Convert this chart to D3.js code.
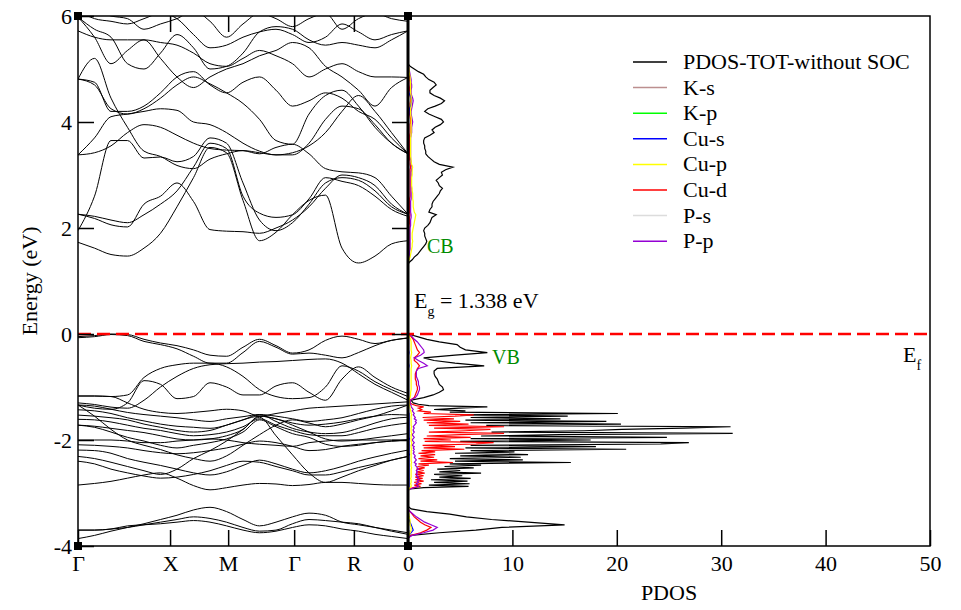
<!DOCTYPE html>
<html>
<head>
<meta charset="utf-8">
<script src="https://cdn.jsdelivr.net/npm/d3@7"></script>
<style>
  body { margin: 0; background: #fff; }
  svg text { font-family: "Liberation Serif", "Times New Roman", serif; }
</style>
</head>
<body>
<div id="chart"></div>
<script>
// k-path sampling (fraction of the path) and high symmetry points
const kGrid = [0,0.05,0.1,0.15,0.2,0.25,0.3,0.35,0.4,0.45,0.5,0.55,0.6,0.65,0.7,0.75,0.8,0.85,0.9,0.95,1];
const kTicks = [0, 0.279, 0.455, 0.655, 0.836];
const kLabels = ["Γ", "X", "M", "Γ", "R"];

// conduction bands (eV) read at every kGrid point
const condBands = [
  [1.73,1.62,1.50,1.47,1.62,1.90,2.40,2.95,3.52,3.42,2.52,1.76,1.92,2.25,2.52,2.62,1.62,1.34,1.47,1.70,1.76],
  [1.95,2.60,3.65,3.65,3.32,3.34,3.25,3.35,3.70,3.60,2.85,2.15,1.95,2.10,2.45,2.85,2.95,2.90,2.70,2.40,2.26],
  [2.26,2.18,2.06,2.02,2.45,2.60,2.85,2.50,1.97,1.94,1.93,1.90,2.00,2.15,2.40,2.75,3.00,2.95,2.80,2.45,2.26],
  [2.26,2.22,2.15,2.10,2.25,2.45,2.70,3.15,3.60,3.50,2.60,2.28,2.20,2.25,2.55,2.95,2.88,2.80,2.60,2.35,2.22],
  [3.38,3.70,4.10,4.15,4.20,4.25,4.22,4.00,3.95,3.80,3.60,3.45,3.38,3.38,3.60,4.05,4.30,4.25,3.95,3.60,3.40],
  [3.38,3.42,3.55,3.80,3.95,3.90,3.75,3.60,3.50,3.47,3.46,3.40,3.52,3.58,3.40,3.12,3.06,3.04,2.95,2.60,2.26],
  [4.81,4.70,4.25,4.15,4.25,4.45,4.70,4.85,4.72,4.55,4.35,4.05,3.65,3.58,4.15,4.50,4.60,4.30,3.90,3.60,3.40],
  [4.81,5.20,4.45,3.90,3.45,3.35,3.18,3.12,3.30,3.40,3.46,3.42,3.38,3.42,3.55,3.80,4.20,4.50,4.20,3.80,3.40],
  [4.81,4.75,4.20,4.20,4.30,4.55,4.85,4.95,4.70,4.55,4.75,4.85,4.60,4.30,4.40,4.55,4.45,4.20,4.05,3.70,3.40],
  [5.72,5.60,5.55,5.55,5.55,5.50,5.45,5.30,5.10,5.05,5.20,5.35,5.25,5.10,4.85,5.00,5.10,4.95,4.85,4.85,4.84],
  [5.98,5.60,5.10,5.35,5.55,5.20,4.85,4.65,4.85,5.00,5.10,5.25,5.35,5.50,5.40,5.05,4.85,4.60,4.30,4.65,4.84],
  [5.98,5.75,5.60,5.10,5.00,5.30,5.65,5.40,5.00,5.05,5.30,5.70,5.80,5.75,5.55,5.45,5.50,5.45,5.40,5.55,5.72],
  [6.10,5.95,5.90,5.85,5.95,6.05,5.95,5.65,5.40,5.45,5.60,5.70,5.75,5.65,5.50,5.60,5.85,5.70,5.55,5.65,5.72],
  [6.20,6.10,6.00,5.95,5.75,5.85,5.95,6.10,5.90,5.60,5.85,6.05,5.95,5.80,5.95,6.05,5.75,5.95,6.05,5.95,5.90]
];

// valence bands (eV)
const valBands = [
  [-0.05,-0.03,0.00,-0.01,-0.10,-0.17,-0.22,-0.30,-0.40,-0.42,-0.25,-0.10,-0.22,-0.36,-0.30,-0.12,-0.04,-0.10,-0.18,-0.12,-0.07],
  [-0.07,-0.05,-0.01,-0.03,-0.14,-0.20,-0.28,-0.42,-0.55,-0.55,-0.35,-0.14,-0.25,-0.38,-0.36,-0.40,-0.45,-0.35,-0.22,-0.12,-0.08],
  [-1.17,-1.17,-1.18,-1.15,-0.82,-0.65,-0.58,-0.55,-0.55,-0.62,-0.80,-1.05,-1.18,-1.22,-1.20,-1.00,-0.60,-0.70,-0.90,-1.05,-1.18],
  [-1.34,-1.40,-1.42,-1.30,-0.88,-0.95,-1.22,-1.18,-0.92,-1.00,-1.15,-1.15,-0.98,-0.92,-1.10,-1.25,-0.85,-0.62,-0.82,-1.00,-1.12],
  [-1.30,-1.33,-1.38,-1.40,-1.25,-1.00,-0.80,-0.65,-0.58,-0.56,-0.55,-0.53,-0.52,-0.50,-0.48,-0.47,-0.55,-0.75,-0.95,-1.10,-1.25],
  [-1.17,-1.17,-1.18,-1.30,-1.42,-1.48,-1.50,-1.48,-1.45,-1.42,-1.45,-1.55,-1.50,-1.45,-1.40,-1.38,-1.36,-1.34,-1.32,-1.30,-1.28],
  [-1.34,-1.36,-1.42,-1.48,-1.52,-1.55,-1.58,-1.62,-1.65,-1.60,-1.56,-1.52,-1.55,-1.60,-1.65,-1.62,-1.58,-1.50,-1.42,-1.36,-1.34],
  [-1.43,-1.45,-1.50,-1.58,-1.64,-1.70,-1.74,-1.76,-1.78,-1.72,-1.62,-1.55,-1.60,-1.68,-1.72,-1.70,-1.66,-1.60,-1.55,-1.52,-1.53],
  [-1.53,-1.55,-1.58,-1.62,-1.70,-1.76,-1.82,-1.85,-1.82,-1.72,-1.62,-1.52,-1.65,-1.78,-1.85,-1.88,-1.86,-1.78,-1.68,-1.60,-1.57],
  [-1.61,-1.62,-1.66,-1.72,-1.78,-1.82,-1.88,-1.92,-1.90,-1.85,-1.75,-1.60,-1.72,-1.82,-1.90,-1.92,-1.92,-1.86,-1.78,-1.72,-1.68],
  [-1.72,-1.74,-1.78,-1.82,-1.86,-1.92,-1.98,-2.00,-1.98,-1.92,-1.80,-1.55,-1.60,-1.72,-1.85,-1.98,-2.02,-2.00,-1.96,-1.92,-1.88],
  [-1.72,-1.76,-1.85,-1.95,-2.02,-2.10,-2.15,-2.10,-2.05,-1.98,-1.85,-1.62,-1.75,-1.88,-1.95,-2.08,-2.12,-2.10,-2.05,-2.02,-2.00],
  [-1.34,-1.55,-1.80,-2.00,-2.10,-2.18,-2.28,-2.35,-2.40,-2.30,-2.10,-1.90,-1.72,-1.62,-1.68,-1.75,-1.70,-1.62,-1.55,-1.45,-1.34],
  [-2.00,-2.00,-2.00,-2.02,-2.05,-2.05,-2.02,-2.00,-1.98,-2.00,-2.05,-2.08,-2.10,-2.12,-2.05,-2.02,-2.00,-2.00,-2.00,-2.00,-2.00],
  [-2.09,-2.10,-2.12,-2.15,-2.20,-2.24,-2.26,-2.24,-2.20,-2.15,-2.08,-2.02,-2.05,-2.12,-2.20,-2.18,-2.12,-2.08,-2.05,-2.02,-2.00],
  [-2.31,-2.35,-2.42,-2.50,-2.58,-2.65,-2.55,-2.35,-2.20,-2.02,-1.80,-1.57,-1.92,-2.28,-2.62,-2.80,-2.70,-2.58,-2.48,-2.38,-2.31],
  [-2.19,-2.20,-2.25,-2.35,-2.42,-2.48,-2.55,-2.62,-2.66,-2.60,-2.48,-2.38,-2.45,-2.55,-2.62,-2.58,-2.50,-2.40,-2.32,-2.25,-2.19],
  [-2.40,-2.45,-2.55,-2.62,-2.68,-2.72,-2.70,-2.65,-2.58,-2.48,-2.40,-2.42,-2.50,-2.58,-2.66,-2.66,-2.60,-2.52,-2.45,-2.38,-2.31],
  [-2.85,-2.82,-2.78,-2.72,-2.66,-2.62,-2.72,-2.86,-2.94,-2.90,-2.85,-2.82,-2.83,-2.86,-2.84,-2.80,-2.80,-2.82,-2.84,-2.85,-2.85],
  [-3.86,-3.80,-3.72,-3.65,-3.58,-3.50,-3.42,-3.32,-3.27,-3.35,-3.50,-3.62,-3.55,-3.45,-3.38,-3.42,-3.55,-3.60,-3.65,-3.70,-3.75],
  [-3.70,-3.70,-3.68,-3.65,-3.60,-3.55,-3.50,-3.45,-3.48,-3.55,-3.65,-3.72,-3.70,-3.58,-3.50,-3.52,-3.55,-3.58,-3.65,-3.72,-3.78],
  [-3.70,-3.70,-3.68,-3.62,-3.60,-3.58,-3.55,-3.52,-3.55,-3.62,-3.70,-3.75,-3.72,-3.65,-3.60,-3.62,-3.68,-3.72,-3.78,-3.82,-3.86]
];

// PDOS energy grid: -3.90..-2.95 every 0.05 eV, -2.925..-1.30 every 0.025 eV, -1.25..5.10 every 0.05 eV
const pdosE = [].concat(
  d3.range(20).map(i => +(-3.90 + 0.05 * i).toFixed(3)),
  d3.range(66).map(i => +(-2.925 + 0.025 * i).toFixed(3)),
  d3.range(128).map(i => +(-1.25 + 0.05 * i).toFixed(3))
);

const pdosTot = [
  0,0,0.3,3.0,6.5,9.0,15.0,11.5,8.0,5.6,4.0,1.8,0.3,0,0,0,0,0,0,0,
  0.2,1.5,5.8,2.0,5.9,2.5,5.7,2.2,6.0,3.0,5.2,2.5,7.0,3.0,5.0,2.8,6.3,3.5,7.0,4.0,
  15.6,4.5,11.0,4.0,10.8,5.0,11.5,4.5,10.2,6.0,20.9,5.5,18.0,6.0,24.2,26.9,5.0,17.5,6.0,24.8,
  7.0,14.5,31.1,8.0,16.9,20.5,26.4,30.9,7.5,20.4,6.0,19.0,5.5,14.6,6.0,15.3,5.0,20.1,4.0,5.5,
  2.5,4.9,7.6,2.0,1.0,0.5,
  0.3,1.5,2.4,3.0,3.4,3.3,3.0,2.9,2.8,2.6,2.5,2.5,2.8,7.3,4.5,2.5,1.5,4.5,7.6,5.5,5.0,4.7,3.0,1.8,0.9,0,
  0,0,0,0,0,0,0,0,0,0,0,0,0,0,0,0,0,0,0,0,0,0,0,0,0,0,
  0.1,0.4,0.6,0.9,1.1,1.3,1.5,1.7,1.8,1.7,1.6,1.6,1.5,1.6,1.9,2.1,2.2,2.3,2.7,2.0,
  2.1,2.3,2.3,2.4,2.6,2.8,3.0,3.1,3.3,3.0,2.9,2.7,3.0,3.3,3.2,3.6,4.3,3.0,2.5,2.2,
  1.9,1.7,1.7,1.6,1.6,1.5,1.5,1.6,2.1,2.5,2.3,2.6,3.1,3.4,3.2,2.6,2.0,1.6,1.9,2.6,
  3.2,3.5,3.1,2.5,2.1,2.1,2.4,2.7,2.5,2.0,1.7,1.5,1.0,0.6,0.2,0
];

const pdosCud = [
  0,0,0.3,1.2,1.8,2.2,1.6,1.2,0.9,0.6,0.4,0.2,0,0,0,0,0,0,0,0,
  0.1,0.5,1.2,0.6,1.3,0.6,1.5,0.7,1.4,0.7,1.5,0.7,1.6,0.8,1.5,0.8,1.6,0.9,2.0,1.0,
  4.3,1.2,2.8,1.0,2.5,1.2,2.6,1.0,2.6,1.3,5.4,1.5,4.5,1.4,6.5,8.2,1.6,4.1,1.5,6.0,
  1.8,5.0,9.2,2.0,5.5,7.9,2.5,9.2,2.0,5.8,1.8,5.0,1.5,4.4,1.4,4.5,6.3,1.5,2.2,1.0,
  1.3,1.0,1.5,0.8,0.4,0.2,
  0.2,0.6,0.7,0.8,0.9,0.9,0.8,0.8,0.7,0.7,0.7,0.8,0.9,1.1,0.9,0.6,0.6,0.9,1.1,0.9,0.8,0.7,0.6,0.5,0.3,0,
  0,0,0,0,0,0,0,0,0,0,0,0,0,0,0,0,0,0,0,0,0,0,0,0,0,0,
  0,0.05,0.05,0.1,0.1,0.1,0.1,0.1,0.1,0.1,0.1,0.1,0.1,0.1,0.1,0.15,0.15,0.15,0.2,0.15,
  0.15,0.15,0.15,0.15,0.15,0.2,0.2,0.2,0.2,0.2,0.2,0.2,0.2,0.2,0.2,0.2,0.25,0.2,0.2,0.15,
  0.15,0.15,0.15,0.15,0.15,0.15,0.15,0.15,0.15,0.2,0.2,0.2,0.2,0.25,0.25,0.2,0.15,0.15,0.15,0.2,
  0.2,0.25,0.25,0.2,0.2,0.15,0.15,0.2,0.2,0.15,0.15,0.1,0.1,0.05,0.05,0
];

const pdosPp = [
  0,0,0.4,1.5,2.4,2.8,2.2,1.6,1.2,0.8,0.5,0.2,0,0,0,0,0,0,0,0,
  0.2,0.6,1.0,0.9,0.8,1.0,0.9,1.1,0.9,1.0,0.8,0.9,0.8,0.9,0.8,1.0,0.9,0.8,0.7,0.8,
  0.6,0.7,0.8,0.7,0.6,0.7,0.6,0.5,0.6,0.5,0.6,0.5,0.6,0.4,0.5,0.6,0.5,0.4,0.5,0.6,
  0.5,0.4,0.5,0.6,0.5,0.5,0.6,0.5,0.6,0.7,0.8,0.7,0.8,0.6,0.7,0.6,0.5,0.6,0.5,0.4,
  0.5,0.4,0.3,0.3,0.2,0.2,
  0.2,0.7,0.9,1.0,1.1,1.1,1.0,1.0,0.9,0.8,0.8,0.8,1.0,1.85,1.5,1.0,0.6,1.2,1.55,1.5,1.3,1.1,0.9,0.6,0.4,0,
  0,0,0,0,0,0,0,0,0,0,0,0,0,0,0,0,0,0,0,0,0,0,0,0,0,0,
  0,0.05,0.1,0.15,0.15,0.2,0.2,0.2,0.2,0.2,0.2,0.2,0.2,0.2,0.25,0.25,0.25,0.3,0.3,0.25,
  0.25,0.25,0.25,0.25,0.3,0.3,0.3,0.3,0.3,0.3,0.3,0.3,0.3,0.3,0.3,0.35,0.4,0.3,0.3,0.25,
  0.25,0.25,0.25,0.25,0.25,0.25,0.25,0.25,0.3,0.35,0.35,0.35,0.4,0.45,0.4,0.35,0.3,0.3,0.35,0.4,
  0.45,0.5,0.45,0.35,0.3,0.3,0.35,0.35,0.3,0.3,0.25,0.2,0.15,0.1,0.05,0
];

const pdosCup = [
  0,0,0.1,0.2,0.3,0.3,0.2,0.2,0.2,0.1,0.1,0,0,0,0,0,0,0,0,0,
  0.1,0.2,0.3,0.3,0.25,0.3,0.3,0.3,0.25,0.3,0.3,0.3,0.3,0.3,0.3,0.3,0.35,0.3,0.3,0.3,
  0.35,0.3,0.3,0.3,0.3,0.3,0.3,0.3,0.3,0.3,0.35,0.3,0.3,0.3,0.35,0.35,0.3,0.3,0.3,0.3,
  0.3,0.3,0.35,0.3,0.3,0.3,0.3,0.35,0.3,0.3,0.3,0.3,0.3,0.3,0.3,0.3,0.35,0.3,0.3,0.25,
  0.25,0.2,0.2,0.15,0.1,0.1,
  0.1,0.2,0.25,0.25,0.3,0.3,0.3,0.3,0.3,0.3,0.3,0.3,0.3,0.35,0.3,0.3,0.25,0.3,0.35,0.3,0.3,0.3,0.3,0.25,0.15,0,
  0,0,0,0,0,0,0,0,0,0,0,0,0,0,0,0,0,0,0,0,0,0,0,0,0,0,
  0,0.1,0.2,0.25,0.3,0.35,0.4,0.4,0.45,0.4,0.4,0.4,0.45,0.5,0.55,0.6,0.65,0.7,0.75,0.6,
  0.55,0.5,0.5,0.5,0.45,0.45,0.45,0.4,0.4,0.35,0.35,0.35,0.35,0.4,0.4,0.4,0.45,0.35,0.3,0.3,
  0.25,0.25,0.25,0.25,0.25,0.25,0.25,0.25,0.3,0.3,0.3,0.3,0.3,0.3,0.3,0.3,0.25,0.25,0.25,0.3,
  0.3,0.3,0.3,0.3,0.25,0.25,0.25,0.25,0.25,0.2,0.2,0.15,0.1,0.1,0.05,0
];

const pdosCus = [
  0,0,0.1,0.3,0.5,0.4,0.3,0.2,0.1,0.1,0,0,0,0,0,0,0,0,0,0,
  0,0.05,0.1,0.1,0.1,0.1,0.1,0.1,0.1,0.1,0.1,0.1,0.1,0.1,0.1,0.1,0.1,0.1,0.1,0.1,
  0.1,0.1,0.1,0.1,0.1,0.1,0.15,0.1,0.1,0.1,0.1,0.1,0.1,0.1,0.1,0.1,0.1,0.1,0.15,0.1,
  0.1,0.1,0.1,0.1,0.1,0.1,0.1,0.1,0.1,0.1,0.1,0.1,0.1,0.1,0.1,0.1,0.1,0.1,0.05,0.05,
  0.05,0.05,0.05,0,0,0,
  0,0.05,0.05,0.05,0.05,0.05,0.05,0.05,0.05,0.05,0.05,0.05,0.05,0.1,0.05,0.05,0.05,0.05,0.1,0.05,0.05,0.05,0.05,0.05,0.05,0,
  0,0,0,0,0,0,0,0,0,0,0,0,0,0,0,0,0,0,0,0,0,0,0,0,0,0,
  0,0.05,0.05,0.05,0.05,0.05,0.05,0.05,0.05,0.05,0.05,0.05,0.05,0.05,0.05,0.05,0.05,0.05,0.05,0.05,
  0.05,0.05,0.05,0.05,0.05,0.05,0.05,0.05,0.05,0.05,0.05,0.05,0.05,0.05,0.05,0.05,0.05,0.05,0.05,0.05,
  0.05,0.05,0.05,0.05,0.05,0.05,0.05,0.05,0.05,0.05,0.05,0.05,0.05,0.05,0.05,0.05,0.1,0.1,0.15,0.25,
  0.3,0.35,0.3,0.2,0.1,0.05,0.05,0.05,0.05,0.05,0.05,0.05,0.05,0.05,0.05,0
];

const legendNames = ["PDOS-TOT-without SOC", "K-s", "K-p", "Cu-s", "Cu-p", "Cu-d", "P-s", "P-p"];
const legendColors = ["#000000", "#bc8f8f", "#00ff00", "#0000ff", "#ffff00", "#ff0000", "#dcdcdc", "#9400d3"];

const energyTicks = [-4, -2, 0, 2, 4, 6];
const dosTicks = [0, 10, 20, 30, 40, 50];

// layout
const W = 961, H = 610;
const margin = {left: 78, top: 16};
const bandW = 330, dosW = 522, plotH = 530;

const svg = d3.select("#chart").append("svg")
    .attr("width", W).attr("height", H);

const xK = d3.scaleLinear().domain([0, 1]).range([margin.left, margin.left + bandW]);
const xD = d3.scaleLinear().domain([0, 50]).range([margin.left + bandW, margin.left + bandW + dosW]);
const yE = d3.scaleLinear().domain([-4, 6]).range([margin.top + plotH, margin.top]);

const defs = svg.append("defs");
defs.append("clipPath").attr("id", "bandClip").append("rect")
    .attr("x", margin.left).attr("y", margin.top).attr("width", bandW).attr("height", plotH);
defs.append("clipPath").attr("id", "dosClip").append("rect")
    .attr("x", margin.left + bandW).attr("y", margin.top).attr("width", dosW).attr("height", plotH);

// band structure
const bandLine = d3.line()
    .x((d, i) => xK(kGrid[i]))
    .y(d => yE(d))
    .curve(d3.curveMonotoneX);

svg.append("g").attr("clip-path", "url(#bandClip)")
  .selectAll("path.band")
  .data(condBands.concat(valBands))
  .enter().append("path")
    .attr("class", "band")
    .attr("d", bandLine)
    .attr("fill", "none")
    .attr("stroke", "#000")
    .attr("stroke-width", 1);

// PDOS curves
const dosLine = d3.line()
    .x(d => xD(d))
    .y((d, i) => yE(pdosE[i]));

const dosSeries = [
  {v: pdosTot, c: legendColors[0]},
  {v: pdosCud, c: legendColors[5]},
  {v: pdosPp, c: legendColors[7]},
  {v: pdosCus, c: legendColors[3]},
  {v: pdosCup, c: legendColors[4]}
];

svg.append("g").attr("clip-path", "url(#dosClip)")
  .selectAll("path.dos")
  .data(dosSeries)
  .enter().append("path")
    .attr("class", "dos")
    .attr("d", d => dosLine(d.v))
    .attr("fill", "none")
    .attr("stroke", d => d.c)
    .attr("stroke-width", 1.2);

// Fermi level
svg.append("line")
    .attr("x1", xK(0)).attr("x2", xD(50))
    .attr("y1", yE(0)).attr("y2", yE(0))
    .attr("stroke", "#ff0000")
    .attr("stroke-width", 2.5)
    .attr("stroke-dasharray", "13,6");

// frames
svg.append("rect")
    .attr("x", margin.left).attr("y", margin.top).attr("width", bandW + dosW).attr("height", plotH)
    .attr("fill", "none").attr("stroke", "#000").attr("stroke-width", 1.5);
svg.append("line")
    .attr("x1", xK(1)).attr("x2", xK(1)).attr("y1", margin.top).attr("y2", margin.top + plotH)
    .attr("stroke", "#000").attr("stroke-width", 3);

// axes
function styleAxis(g) {
  g.select(".domain").remove();
  g.selectAll(".tick line").attr("stroke-width", 1.5);
  g.attr("font-family", "Liberation Serif, Times New Roman, serif").attr("font-size", 22);
}

svg.append("g")
    .attr("transform", "translate(" + margin.left + ",0)")
    .call(d3.axisLeft(yE).tickValues(energyTicks).tickSize(-16).tickPadding(6).tickFormat(d => String(d)))
    .call(styleAxis);

svg.append("g")
    .attr("transform", "translate(" + xK(1) + ",0)")
    .call(d3.axisRight(yE).tickValues([-2, 0, 2, 4]).tickSize(-16).tickFormat(""))
    .call(styleAxis);

svg.append("g")
    .attr("transform", "translate(0," + (margin.top + plotH) + ")")
    .call(d3.axisBottom(xK).tickValues(kTicks).tickSize(-16).tickPadding(9).tickFormat((d, i) => kLabels[i]))
    .call(styleAxis);

svg.append("g")
    .attr("transform", "translate(0," + margin.top + ")")
    .call(d3.axisTop(xK).tickValues(kTicks.slice(1)).tickSize(-16).tickFormat(""))
    .call(styleAxis);

svg.append("g")
    .attr("transform", "translate(0," + (margin.top + plotH) + ")")
    .call(d3.axisBottom(xD).tickValues(dosTicks).tickSize(-16).tickPadding(9).tickFormat(d => String(d)))
    .call(styleAxis);

// corner markers
const corners = [[xK(0), yE(6)], [xK(1), yE(6)], [xK(0), yE(-4)], [xK(1), yE(-4)]];
svg.selectAll("rect.corner").data(corners).enter().append("rect")
    .attr("class", "corner")
    .attr("x", d => d[0] - 4).attr("y", d => d[1] - 4)
    .attr("width", 8).attr("height", 8)
    .attr("fill", "#000");

// axis titles
svg.append("text")
    .attr("transform", "translate(37," + (margin.top + plotH / 2) + ") rotate(-90)")
    .attr("text-anchor", "middle")
    .attr("font-size", 22)
    .text("Energy (eV)");

svg.append("text")
    .attr("x", xD(25)).attr("y", 600)
    .attr("text-anchor", "middle")
    .attr("font-size", 22)
    .text("PDOS");

// annotations
const eg = svg.append("text").attr("x", 414).attr("y", 308).attr("font-size", 22);
eg.append("tspan").text("E");
eg.append("tspan").attr("font-size", 14).attr("dy", 8).text("g");
eg.append("tspan").attr("dy", -8).text(" = 1.338 eV");

svg.append("text").attr("x", 427).attr("y", 253)
    .attr("font-size", 20).attr("fill", "#008b00").text("CB");
svg.append("text").attr("x", 492).attr("y", 364)
    .attr("font-size", 20).attr("fill", "#008b00").text("VB");

const ef = svg.append("text").attr("x", 903).attr("y", 362).attr("font-size", 22);
ef.append("tspan").text("E");
ef.append("tspan").attr("font-size", 14).attr("dy", 8).text("f");

// legend
const legend = svg.append("g").selectAll("g")
    .data(legendNames)
    .enter().append("g")
    .attr("transform", (d, i) => "translate(633," + (62 + i * 25.6) + ")");

legend.append("line")
    .attr("x1", 0).attr("x2", 34)
    .attr("stroke", (d, i) => legendColors[i])
    .attr("stroke-width", 1.5);

legend.append("text")
    .attr("x", 50).attr("y", 7)
    .attr("font-size", 22)
    .text(d => d);
</script>
</body>
</html>
